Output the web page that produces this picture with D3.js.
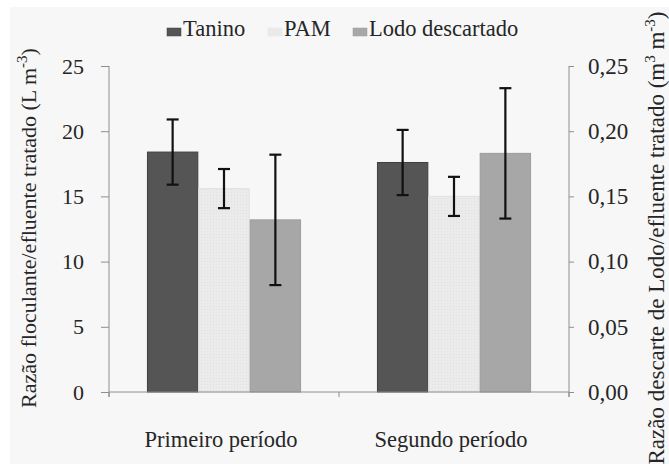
<!DOCTYPE html>
<html>
<head>
<meta charset="utf-8">
<script src="https://cdn.jsdelivr.net/npm/d3@7/dist/d3.min.js"></script>
<style>
  html, body { margin: 0; padding: 0; background: #ffffff; }
  svg { display: block; }
</style>
</head>
<body>
<svg id="chart" width="669" height="464"></svg>
<script>
// Periods on the x axis and the three measured series
const categories = ["Primeiro período", "Segundo período"];
const seriesNames = ["Tanino", "PAM", "Lodo descartado"];

// Flocculant ratios (L m-3), left axis
const taninoValues = [18.4, 17.6];
const taninoErrors = [2.5, 2.5];
const pamValues = [15.6, 15.0];
const pamErrors = [1.5, 1.5];

// Discarded sludge ratio (m3 m-3), right axis
const lodoValues = [0.132, 0.183];
const lodoErrors = [0.05, 0.05];

const leftTicks = [0, 5, 10, 15, 20, 25];
const rightTicks = [0, 0.05, 0.10, 0.15, 0.20, 0.25];

const colors = { "Tanino": "#555555", "PAM": "#ebebeb", "Lodo descartado": "#a7a7a7" };
const strokes = { "Tanino": "#404040", "PAM": "#e2e2e2", "Lodo descartado": "#9c9c9c" };

const FONT = '"Liberation Serif"';
const TEXT_COLOR = "#262626";
const svg = d3.select("#chart");
const W = 669, H = 464;
const margin = { left: 109, right: 100, top: 66, bottom: 72 };
const plotL = margin.left, plotR = W - margin.right, plotT = margin.top, plotB = H - margin.bottom;
const axisColor = "#8e8e8e";

function serif(sel, size) {
  return sel.style("font-family", FONT).style("font-size", size + "px").attr("fill", TEXT_COLOR);
}

// light grey panel behind the whole figure
svg.append("rect").attr("x", 10).attr("y", 7).attr("width", W - 10).attr("height", H - 7)
  .attr("fill", "#f7f7f7");

const defs = svg.append("defs");
const pat = defs.append("pattern").attr("id", "pamFill").attr("patternUnits", "userSpaceOnUse")
  .attr("width", 3).attr("height", 3);
pat.append("rect").attr("width", 3).attr("height", 3).attr("fill", colors["PAM"]);
pat.append("rect").attr("width", 1).attr("height", 1).attr("fill", "#e0e0e0");

const fills = { "Tanino": colors["Tanino"], "PAM": "url(#pamFill)", "Lodo descartado": colors["Lodo descartado"] };

const x0 = d3.scaleBand().domain(categories).range([plotL, plotR]).padding(0);
const x1 = d3.scaleBand().domain(seriesNames)
  .range([x0.bandwidth() * 0.165, x0.bandwidth() * 0.835]).padding(0);
const yL = d3.scaleLinear().domain([0, 25]).range([plotB, plotT]);
const yR = d3.scaleLinear().domain([0, 0.25]).range([plotB, plotT]);

// rows built from the named arrays
const rows = [];
categories.forEach((c, i) => {
  rows.push({ cat: c, s: "Tanino", v: taninoValues[i], e: taninoErrors[i], y: yL });
  rows.push({ cat: c, s: "PAM", v: pamValues[i], e: pamErrors[i], y: yL });
  rows.push({ cat: c, s: "Lodo descartado", v: lodoValues[i], e: lodoErrors[i], y: yR });
});

// bars
svg.append("g").selectAll("rect").data(rows).join("rect")
  .attr("x", d => x0(d.cat) + x1(d.s) + 0.5)
  .attr("width", x1.bandwidth() - 1)
  .attr("y", d => d.y(d.v))
  .attr("height", d => plotB - d.y(d.v))
  .attr("fill", d => fills[d.s])
  .attr("stroke", d => strokes[d.s])
  .attr("stroke-width", 1);

// error bars
const eg = svg.append("g").attr("stroke", "#111").attr("stroke-width", 2.2);
rows.forEach(d => {
  const cx = x0(d.cat) + x1(d.s) + x1.bandwidth() / 2;
  const yt = d.y(d.v + d.e), yb = d.y(d.v - d.e);
  eg.append("line").attr("x1", cx).attr("x2", cx).attr("y1", yt).attr("y2", yb);
  eg.append("line").attr("x1", cx - 6).attr("x2", cx + 6).attr("y1", yt).attr("y2", yt);
  eg.append("line").attr("x1", cx - 6).attr("x2", cx + 6).attr("y1", yb).attr("y2", yb);
});

// left axis
const gL = svg.append("g").attr("transform", `translate(${plotL},0)`)
  .call(d3.axisLeft(yL).tickValues(leftTicks).tickSize(8).tickPadding(17).tickFormat(d3.format("d")));
// right axis
const gR = svg.append("g").attr("transform", `translate(${plotR},0)`)
  .call(d3.axisRight(yR).tickValues(rightTicks).tickSize(5).tickPadding(14)
    .tickFormat(d => d3.format(".2f")(d).replace(".", ",")));
[gL, gR].forEach(g => {
  g.select(".domain").remove();
  g.selectAll(".tick line").attr("stroke", axisColor);
});
serif(gL.selectAll(".tick text"), 22);
serif(gR.selectAll(".tick text"), 23);
// vertical axis lines, reaching slightly below the baseline
svg.append("line").attr("x1", plotL).attr("x2", plotL).attr("y1", plotT).attr("y2", plotB + 5).attr("stroke", axisColor);
svg.append("line").attr("x1", plotR).attr("x2", plotR).attr("y1", plotT).attr("y2", plotB + 5).attr("stroke", axisColor);

// x axis with ticks at the group boundaries
const gX = svg.append("g").attr("transform", `translate(0,${plotB})`);
gX.append("line").attr("x1", plotL).attr("x2", plotR).attr("y1", 0).attr("y2", 0);
const boundaries = categories.map(c => x0(c)).concat([plotR]);
gX.selectAll(".bt").data(boundaries).join("line").attr("class", "bt")
  .attr("x1", d => d).attr("x2", d => d).attr("y1", 0).attr("y2", 5);
gX.selectAll("line").attr("stroke", axisColor);
serif(gX.selectAll("text.cat").data(categories).join("text").attr("class", "cat")
  .attr("x", d => x0(d) + x0.bandwidth() / 2 - 3).attr("y", 55)
  .attr("text-anchor", "middle").text(d => d), 22.5);

// axis titles
const tL = serif(svg.append("text").attr("transform", `translate(36,228) rotate(-90)`)
  .attr("text-anchor", "middle"), 22);
tL.append("tspan").text("Razão floculante/efluente tratado (L m");
tL.append("tspan").attr("dy", -9).style("font-size", "15px").text("-3");
tL.append("tspan").attr("dy", 9).text(")");

const tR = serif(svg.append("text").attr("transform", `translate(664,238) rotate(-90)`)
  .attr("text-anchor", "middle"), 23);
tR.append("tspan").text("Razão descarte de Lodo/efluente tratado (m");
tR.append("tspan").attr("dy", -9).style("font-size", "15px").text("3");
tR.append("tspan").attr("dy", 9).text(" m");
tR.append("tspan").attr("dy", -9).style("font-size", "15px").text("-3");
tR.append("tspan").attr("dy", 9).text(")");

// legend
const legendX = [167, 268, 353];
const lg = svg.append("g");
seriesNames.forEach((s, i) => {
  lg.append("rect").attr("x", legendX[i]).attr("y", 28).attr("width", 14).attr("height", 8)
    .attr("fill", fills[s]).attr("stroke", strokes[s]).attr("stroke-width", 0.5);
  serif(lg.append("text").attr("x", legendX[i] + 16).attr("y", 36).text(s), 22.5);
});
</script>
</body>
</html>
